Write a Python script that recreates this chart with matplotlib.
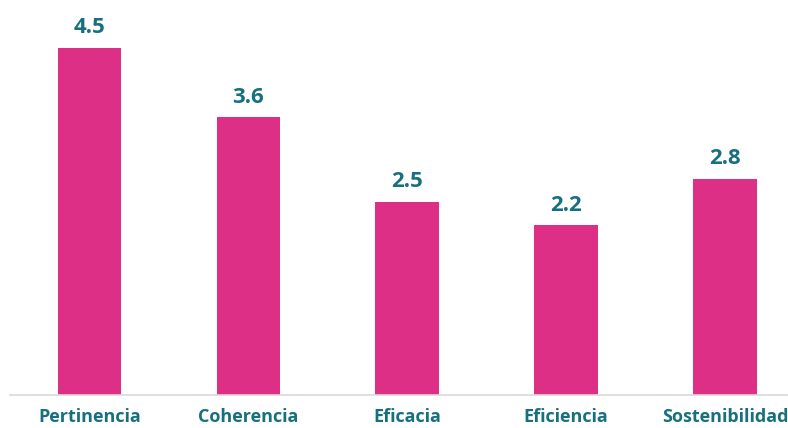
import matplotlib
matplotlib.use("Agg")
import matplotlib.pyplot as plt

categories = ["Pertinencia", "Coherencia", "Eficacia", "Eficiencia", "Sostenibilidad"]
scores = [4.5, 3.6, 2.5, 2.2, 2.8]

bar_color = "#DE2F87"
text_color = "#17707F"

plt.rcParams["font.family"] = ["Open Sans", "DejaVu Sans"]

fig = plt.figure(figsize=(7.88, 4.28), dpi=100)
ax = fig.add_axes([10 / 788, 1 - 395 / 428, 778 / 788, 395 / 428])

x = range(len(categories))
bars = ax.bar(x, scores, width=0.4, color=bar_color, zorder=2)

for xi, v in zip(x, scores):
    ax.annotate(f"{v:.1f}", (xi, v), xytext=(0, 7), textcoords="offset points",
                ha="center", va="bottom", fontsize=16, fontweight="bold",
                color=text_color)

ax.set_xlim(-0.5, (788 - 89) / 159)
ax.set_ylim(0, 5.12)
ax.set_xticks(list(x))
ax.set_xticklabels(categories, fontsize=13, fontweight="bold", color=text_color)
ax.tick_params(axis="x", length=0, pad=9)
ax.set_yticks([])
for s in ["top", "right", "left"]:
    ax.spines[s].set_visible(False)
ax.spines["bottom"].set_color("#D9D9D9")
ax.spines["bottom"].set_linewidth(1.2)

fig.savefig("out.png", dpi=100)
